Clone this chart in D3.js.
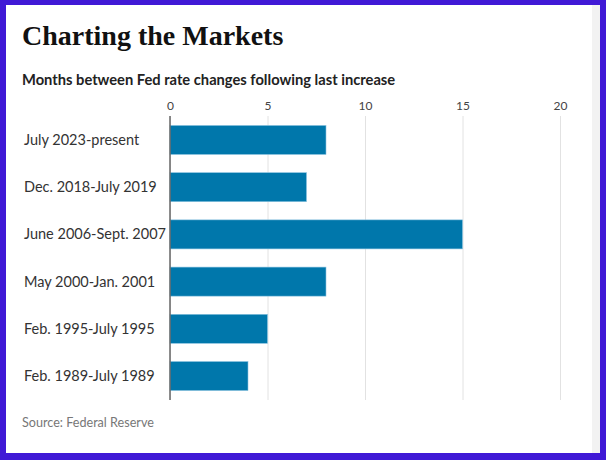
<!DOCTYPE html>
<html>
<head>
<meta charset="utf-8">
<script src="https://cdn.jsdelivr.net/npm/d3@7"></script>
<style>
  html, body { margin: 0; padding: 0; background: #4019d6; }
  svg { display: block; }
</style>
</head>
<body>
<div id="chart"></div>
<script>
// Data
var periods = [
    'July 2023-present',
    'Dec. 2018-July 2019',
    'June 2006-Sept. 2007',
    'May 2000-Jan. 2001',
    'Feb. 1995-July 1995',
    'Feb. 1989-July 1989'
];
var months = [8, 7, 15, 8, 5, 4];
var tick_values = [0, 5, 10, 15, 20];

var title_text = 'Charting the Markets';
var subtitle_text = 'Months between Fed rate changes following last increase';
var source_text = 'Source: Federal Reserve';

// Width and height
var chart_width  = 606;
var chart_height = 460;

var svg = d3.select('#chart')
    .append('svg')
    .attr('width', chart_width)
    .attr('height', chart_height);

// purple frame + white card + grey strip on the right
svg.append('rect')
    .attr('x', 0).attr('y', 0)
    .attr('width', chart_width).attr('height', chart_height)
    .attr('fill', '#4019d6');
svg.append('rect')
    .attr('x', 6).attr('y', 5)
    .attr('width', 594).attr('height', 448)
    .attr('fill', '#f2f2f2');
svg.append('rect')
    .attr('x', 6).attr('y', 5)
    .attr('width', 586).attr('height', 448)
    .attr('fill', '#ffffff');

// Scales
var x = d3.scaleLinear()
    .domain([0, 20])
    .range([170, 560]);

var y = d3.scaleBand()
    .domain(periods)
    .range([116, 400])
    .paddingInner(0.385)
    .paddingOuter(0.2);

// Titles
svg.append('text')
    .attr('x', 22).attr('y', 45)
    .style('font-family', '"Liberation Serif", serif')
    .style('font-weight', 'bold')
    .style('font-size', '28px')
    .attr('fill', '#111')
    .text(title_text);

svg.append('text')
    .attr('x', 22).attr('y', 85)
    .style('font-family', 'Lato, sans-serif')
    .style('font-weight', 'bold')
    .style('font-size', '14.7px')
    .attr('fill', '#222')
    .text(subtitle_text);

// Axis on top with grid lines
var axis = d3.axisTop(x)
    .tickValues(tick_values)
    .tickSize(-(400 - 116))
    .tickPadding(5);

var ax = svg.append('g')
    .attr('transform', 'translate(0,116)')
    .call(axis);

ax.select('.domain').remove();
ax.selectAll('.tick line')
    .attr('stroke', '#e2e2e2')
    .attr('stroke-width', 1);
ax.selectAll('.tick text')
    .attr('y', -6)
    .style('font-family', 'Lato, sans-serif')
    .style('font-size', '12px')
    .attr('fill', '#444');

// Bars
svg.selectAll('rect.bar')
    .data(months)
    .enter()
    .append('rect')
    .attr('class', 'bar')
    .attr('x', x(0))
    .attr('y', function(d, i){ return y(periods[i]); })
    .attr('width', function(d){ return x(d) - x(0); })
    .attr('height', y.bandwidth())
    .attr('fill', '#0077ab')
    .attr('stroke', '#8cc4e0')
    .attr('stroke-width', 0.6);

// zero line
svg.append('line')
    .attr('x1', x(0)).attr('x2', x(0))
    .attr('y1', 116).attr('y2', 400)
    .attr('stroke', '#666')
    .attr('stroke-width', 1.5);

// Category labels
svg.selectAll('text.cat')
    .data(periods)
    .enter()
    .append('text')
    .attr('class', 'cat')
    .attr('x', 24)
    .attr('y', function(d){ return y(d) + y.bandwidth() / 2 + 5; })
    .style('font-family', 'Lato, sans-serif')
    .style('font-size', '14.5px')
    .attr('fill', '#333')
    .text(function(d){ return d; });

// Source
svg.append('text')
    .attr('x', 22).attr('y', 427)
    .style('font-family', 'Lato, sans-serif')
    .style('font-size', '12.6px')
    .attr('fill', '#777')
    .text(source_text);
</script>
</body>
</html>
